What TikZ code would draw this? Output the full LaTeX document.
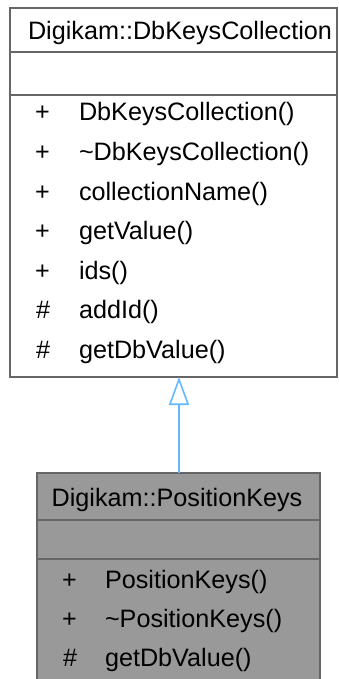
\documentclass[tikz,border=0pt]{standalone}
\usepackage{fontspec}
\setmainfont{Liberation Sans}
\usetikzlibrary{arrows.meta}
\definecolor{bordergray}{HTML}{666666}
\definecolor{fillgray}{HTML}{999999}
\definecolor{arrowblue}{HTML}{63B8FF}
\begin{document}
\begin{tikzpicture}[x=1pt,y=-1pt,
  every node/.style={inner sep=0pt, outer sep=0pt},
  umlbox/.style={draw=bordergray, line width=1.8pt, anchor=north west},
  txt/.style={anchor=base west, font=\fontsize{25.2}{29}\selectfont},
  ttl/.style={anchor=base, font=\fontsize{25.2}{29}\selectfont},
  sep/.style={draw=bordergray, line width=1.8pt},
  inherit/.style={draw=arrowblue, line width=1.6pt, -{Triangle[open, length=28pt, width=20pt, line width=1.6pt]}}
]
\clip (0,0) rectangle (338,679);
\fill[white] (0,0) rectangle (338,679);
% top class
\node[umlbox, fill=white, minimum width=327pt, minimum height=369pt] (top) at (10,8) {};
\coordinate (tsa) at (10,52); \coordinate (tsb) at (337,52);
\coordinate (tsc) at (10,95); \coordinate (tsd) at (337,95);
\draw[sep] (tsa) -- (tsb);
\draw[sep] (tsc) -- (tsd);
\node[ttl] (ttitle) at (180,39.5) {Digikam::DbKeysCollection};
\node[txt] (tv1) at (35,121) {+};   \node[txt] (tm1) at (79,121) {DbKeysCollection()};
\node[txt] (tv2) at (35,160.5) {+}; \node[txt] (tm2) at (79,160.5) {\char`~DbKeysCollection()};
\node[txt] (tv3) at (35,200) {+};   \node[txt] (tm3) at (79,200) {collectionName()};
\node[txt] (tv4) at (35,239.5) {+}; \node[txt] (tm4) at (79,239.5) {getValue()};
\node[txt] (tv5) at (35,279) {+};   \node[txt] (tm5) at (79,279) {ids()};
\node[txt] (tv6) at (36,318.5) {\#}; \node[txt] (tm6) at (79,318.5) {addId()};
\node[txt] (tv7) at (36,358) {\#};   \node[txt] (tm7) at (79,358) {getDbValue()};
% bottom class
\node[umlbox, fill=fillgray, minimum width=283pt, minimum height=230pt] (bot) at (37,473) {};
\coordinate (bsa) at (37,520); \coordinate (bsb) at (320,520);
\coordinate (bsc) at (37,559); \coordinate (bsd) at (320,559);
\draw[sep] (bsa) -- (bsb);
\draw[sep] (bsc) -- (bsd);
\node[ttl] (btitle) at (177,506) {Digikam::PositionKeys};
\node[txt] (bv1) at (62,588) {+};  \node[txt] (bm1) at (105,588) {PositionKeys()};
\node[txt] (bv2) at (62,627) {+};  \node[txt] (bm2) at (105,627) {\char`~PositionKeys()};
\node[txt] (bv3) at (63,666) {\#}; \node[txt] (bm3) at (105,666) {getDbValue()};
% inheritance
\coordinate (arrowtop) at (179,377);
\coordinate (arrowbot) at (179,473);
\draw[inherit] (arrowbot) -- (arrowtop);
\end{tikzpicture}
\end{document}
